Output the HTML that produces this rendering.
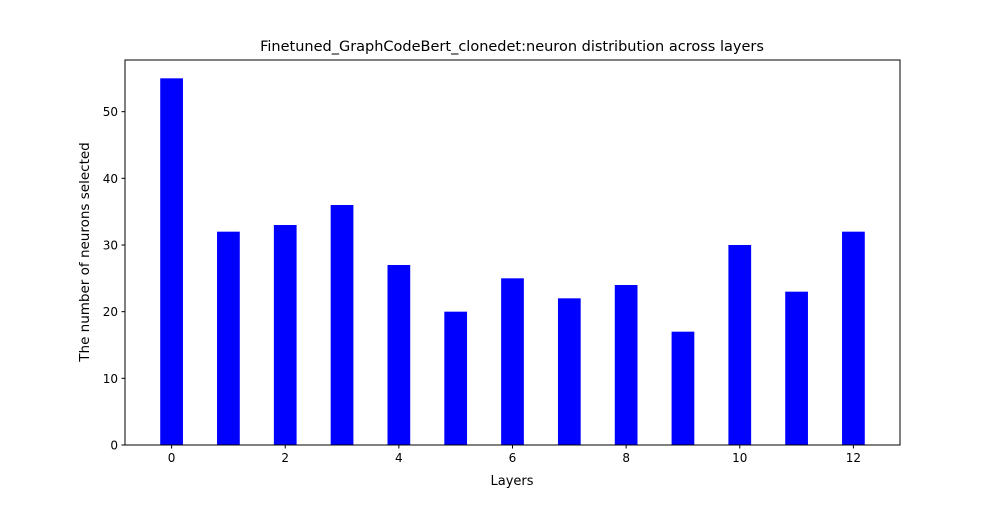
<!DOCTYPE html>
<html><head><meta charset="utf-8"><style>
body{margin:0;background:#fff;font-family:"Liberation Sans","DejaVu Sans",sans-serif}
svg text{font-family:"DejaVu Sans","Liberation Sans",sans-serif;fill:#000}
</style></head><body>
<svg id="chart" width="1000" height="500"></svg>
<script>
const layers=[0,1,2,3,4,5,6,7,8,9,10,11,12];
const neurons=[55,32,33,36,27,20,25,22,24,17,30,23,32];
const xTicks=[0,2,4,6,8,10,12];
const yTicks=[0,10,20,30,40,50];
const L=125,R=900,T=60,B=445,xmin=-0.82,xmax=12.82,ymax=57.75;
const sx=v=>L+(v-xmin)/(xmax-xmin)*(R-L);
const sy=v=>B-v/ymax*(B-T);
const svg=document.getElementById('chart');
const NS='http://www.w3.org/2000/svg';
function mk(tag,attrs,txt){const e=document.createElementNS(NS,tag);for(const k in attrs)e.setAttribute(k,attrs[k]);if(txt!==undefined)e.textContent=txt;svg.appendChild(e);return e;}
layers.forEach((l,i)=>{
 const x0=sx(l-0.2),x1=sx(l+0.2);
 const r=mk('rect',{x:x0,y:sy(neurons[i]),width:x1-x0,height:B-sy(neurons[i]),fill:'#0000ff'});
 
 
});
const frame=mk('rect',{x:L,y:T,width:R-L,height:B-T,fill:'none',stroke:'#000','stroke-width':1});


xTicks.forEach(t=>{
 mk('line',{x1:sx(t),x2:sx(t),y1:B,y2:B+3.5,stroke:'#000'});
 const tx=mk('text',{x:sx(t),y:B+17,'text-anchor':'middle','font-size':'12'},t);
 
 
});
yTicks.forEach(t=>{
 mk('line',{x1:L-3.5,x2:L,y1:sy(t),y2:sy(t),stroke:'#000'});
 const tx=mk('text',{x:L-7,y:sy(t)+4.5,'text-anchor':'end','font-size':'12'},t);
 
 
});
const ti=mk('text',{x:512,y:51,'text-anchor':'middle','font-size':'14.5'},'Finetuned_GraphCodeBert_clonedet:neuron distribution across layers');


const xl=mk('text',{x:512,y:485,'text-anchor':'middle','font-size':'13'},'Layers');


const yl=mk('text',{x:89,y:252,'text-anchor':'middle','font-size':'13.5',transform:'rotate(-90 89 252)'},'The number of neurons selected');


</script>
</body></html>
